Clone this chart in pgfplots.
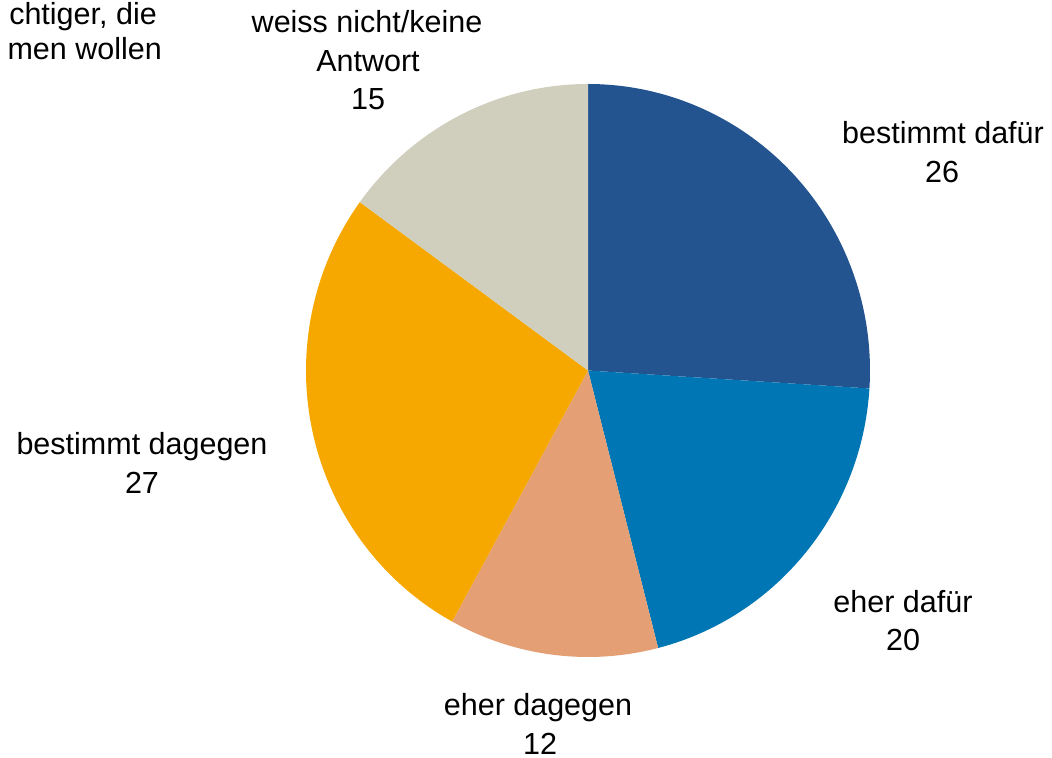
\documentclass[border=0pt]{standalone}
\usepackage{pgfplots}
\usepackage{pgfplotstable}
\pgfplotsset{compat=1.18}
\usepackage{fontspec}
\setmainfont{Liberation Sans}
\definecolor{cA}{RGB}{35,84,143}
\definecolor{cB}{RGB}{0,119,180}
\definecolor{cC}{RGB}{228,160,116}
\definecolor{cD}{RGB}{246,168,0}
\definecolor{cE}{RGB}{208,207,190}
\pgfplotstableread{
label value color
dafuerA 26 cA
dafuerB 20 cB
dagegenB 12 cC
dagegenA 27 cD
wn 15 cE
}\piedata
\newcommand\lab[3]{\node[anchor=base,inner sep=0pt,font=\fontsize{30.5bp}{38bp}\selectfont] at (axis cs:#1,#2) {#3};}
\begin{document}
\begin{tikzpicture}
\begin{axis}[
  scale only axis, width=1052bp, height=758bp,
  xmin=0, xmax=1052, ymin=0, ymax=758,
  hide axis, clip=false]
\addplot[draw=none, forget plot] coordinates {(0,0) (1052,758)};
\pgfplotstablegetrowsof{\piedata}
\pgfmathtruncatemacro\nrows{\pgfplotsretval-1}
\gdef\cumangle{90}
\foreach \i in {0,...,\nrows}{
  \pgfplotstablegetelem{\i}{value}\of\piedata \let\v\pgfplotsretval
  \pgfplotstablegetelem{\i}{color}\of\piedata \let\c\pgfplotsretval
  \pgfmathsetmacro\aend{\cumangle-3.6*\v}
  \edef\temp{\noexpand\fill[\c] (axis cs:588,387.5) -- ++(\cumangle:282bp and 286.5bp) arc[start angle=\cumangle, end angle=\aend, x radius=282bp, y radius=286.5bp] -- cycle;}
  \temp
  \xdef\cumangle{\aend}
}
% labels (y = 758 - image baseline)
\lab{943}{614}{bestimmt dafür}
\lab{942}{575}{26}
\lab{903}{145}{eher dafür}
\lab{903}{107}{20}
\lab{538}{42}{eher dagegen}
\lab{540}{4}{12}
\lab{142}{303}{bestimmt dagegen}
\lab{142}{264}{27}
\lab{367}{725}{weiss nicht/keine}
\lab{368}{686}{Antwort}
\lab{368}{648}{15}
\node[anchor=base east,inner sep=0pt,font=\fontsize{30.5bp}{38bp}\selectfont] at (axis cs:157,733) {chtiger, die};
\node[anchor=base east,inner sep=0pt,font=\fontsize{30.5bp}{38bp}\selectfont] at (axis cs:162,698) {men wollen};
\end{axis}
\end{tikzpicture}
\end{document}
